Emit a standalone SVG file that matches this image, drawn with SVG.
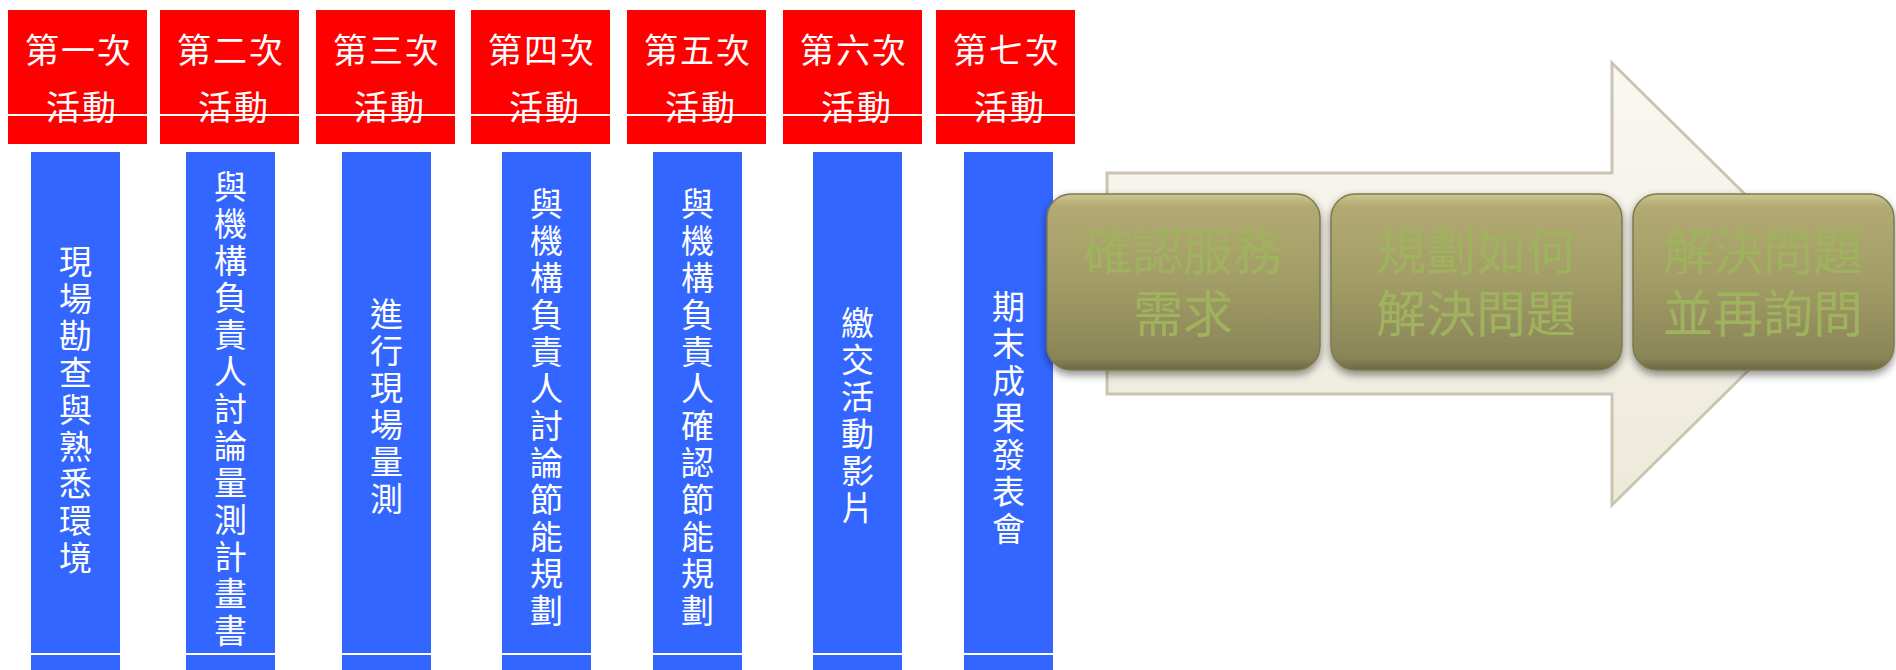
<svg xmlns="http://www.w3.org/2000/svg" width="1896" height="670" viewBox="0 0 1896 670">
<defs>
<style>
.red{fill:#FF0000}
.blue{fill:#3366FF}
.wl{stroke:#FFFFFF;stroke-width:2}
.ht{font-family:"Noto Sans CJK TC","Noto Sans CJK SC",sans-serif;font-size:34px;fill:#FFFFFF;text-anchor:middle;letter-spacing:2px}
.vt{font-family:"Noto Sans CJK TC","Noto Sans CJK SC",sans-serif;font-size:33px;fill:#FFFFFF;writing-mode:vertical-rl;text-anchor:start;letter-spacing:4px}
.bt{font-family:"Noto Sans CJK TC","Noto Sans CJK SC",sans-serif;font-size:50px;fill:#9FB25E;text-anchor:middle}
.box{fill:url(#boxg);stroke:#7E7950;stroke-width:1.5;filter:url(#sh)}
</style>
<linearGradient id="arrowg" x1="0" y1="0" x2="0" y2="1">
<stop offset="0" stop-color="#F9F8F2"/>
<stop offset="1" stop-color="#EDE9DA"/>
</linearGradient>
<linearGradient id="boxg" x1="0" y1="0" x2="0" y2="1">
<stop offset="0" stop-color="#CFC78F"/>
<stop offset="0.07" stop-color="#B2AA72"/>
<stop offset="0.5" stop-color="#A29C66"/>
<stop offset="0.93" stop-color="#8A8557"/>
<stop offset="1" stop-color="#6C6842"/>
</linearGradient>
<filter id="sh" x="-10%" y="-10%" width="120%" height="130%">
<feDropShadow dx="0" dy="4" stdDeviation="4" flood-color="#000000" flood-opacity="0.45"/>
</filter>
<clipPath id="colclip"><rect x="0" y="152" width="1896" height="501"/></clipPath>
</defs>
<rect width="1896" height="670" fill="#FFFFFF"/>

<g id="header1"><rect class="red" x="8" y="10" width="139" height="134"/><line class="wl" x1="8" y1="115" x2="147" y2="115"/><text class="ht" x="79" y="63">第一次</text><text class="ht" x="82" y="120">活動</text></g>
<g id="header2"><rect class="red" x="160" y="10" width="139" height="134"/><line class="wl" x1="160" y1="115" x2="299" y2="115"/><text class="ht" x="231" y="63">第二次</text><text class="ht" x="234" y="120">活動</text></g>
<g id="header3"><rect class="red" x="316" y="10" width="139" height="134"/><line class="wl" x1="316" y1="115" x2="455" y2="115"/><text class="ht" x="387" y="63">第三次</text><text class="ht" x="390" y="120">活動</text></g>
<g id="header4"><rect class="red" x="471" y="10" width="139" height="134"/><line class="wl" x1="471" y1="115" x2="610" y2="115"/><text class="ht" x="542" y="63">第四次</text><text class="ht" x="545" y="120">活動</text></g>
<g id="header5"><rect class="red" x="627" y="10" width="139" height="134"/><line class="wl" x1="627" y1="115" x2="766" y2="115"/><text class="ht" x="698" y="63">第五次</text><text class="ht" x="701" y="120">活動</text></g>
<g id="header6"><rect class="red" x="783" y="10" width="139" height="134"/><line class="wl" x1="783" y1="115" x2="922" y2="115"/><text class="ht" x="854" y="63">第六次</text><text class="ht" x="857" y="120">活動</text></g>
<g id="header7"><rect class="red" x="936" y="10" width="139" height="134"/><line class="wl" x1="936" y1="115" x2="1075" y2="115"/><text class="ht" x="1007" y="63">第七次</text><text class="ht" x="1010" y="120">活動</text></g>

<g id="col1"><rect class="blue" x="31" y="152" width="89" height="518"/>
<text class="vt" x="75.5" y="245">現場勘查與熟悉環境</text>
<line class="wl" x1="31" y1="654" x2="120" y2="654"/></g>

<g id="col2"><rect class="blue" x="186" y="152" width="89" height="518"/>
<text class="vt" x="230.5" y="170" clip-path="url(#colclip)">與機構負責人討論量測計畫書</text>
<line class="wl" x1="186" y1="654" x2="275" y2="654"/></g>

<g id="col3"><rect class="blue" x="342" y="152" width="89" height="518"/>
<text class="vt" x="386.5" y="297">進行現場量測</text>
<line class="wl" x1="342" y1="654" x2="431" y2="654"/></g>

<g id="col4"><rect class="blue" x="502" y="152" width="89" height="518"/>
<text class="vt" x="546.5" y="187">與機構負責人討論節能規劃</text>
<line class="wl" x1="502" y1="654" x2="591" y2="654"/></g>

<g id="col5"><rect class="blue" x="653" y="152" width="89" height="518"/>
<text class="vt" x="697.5" y="187">與機構負責人確認節能規劃</text>
<line class="wl" x1="653" y1="654" x2="742" y2="654"/></g>

<g id="col6"><rect class="blue" x="813" y="152" width="89" height="518"/>
<text class="vt" x="857.5" y="306">繳交活動影片</text>
<line class="wl" x1="813" y1="654" x2="902" y2="654"/></g>

<g id="col7"><rect class="blue" x="964" y="152" width="89" height="518"/>
<text class="vt" x="1008.5" y="290">期末成果發表會</text>
<line class="wl" x1="964" y1="654" x2="1053" y2="654"/></g>

<g id="arrow"><path d="M1107,173 L1612,173 L1612,63 L1836,284 L1612,505 L1612,394 L1107,394 Z" fill="url(#arrowg)" stroke="#C9C5B2" stroke-width="3"/></g>

<g id="step1"><rect class="box" x="1047" y="194" width="273" height="176" rx="24"/><text class="bt" x="1183" y="270">確認服務</text><text class="bt" x="1183" y="332">需求</text></g>
<g id="step2"><rect class="box" x="1331" y="194" width="291" height="176" rx="24"/><text class="bt" x="1476" y="270">規劃如何</text><text class="bt" x="1476" y="332">解決問題</text></g>
<g id="step3"><rect class="box" x="1633" y="194" width="261" height="176" rx="24"/><text class="bt" x="1763" y="270">解決問題</text><text class="bt" x="1763" y="332">並再詢問</text></g>
</svg>
